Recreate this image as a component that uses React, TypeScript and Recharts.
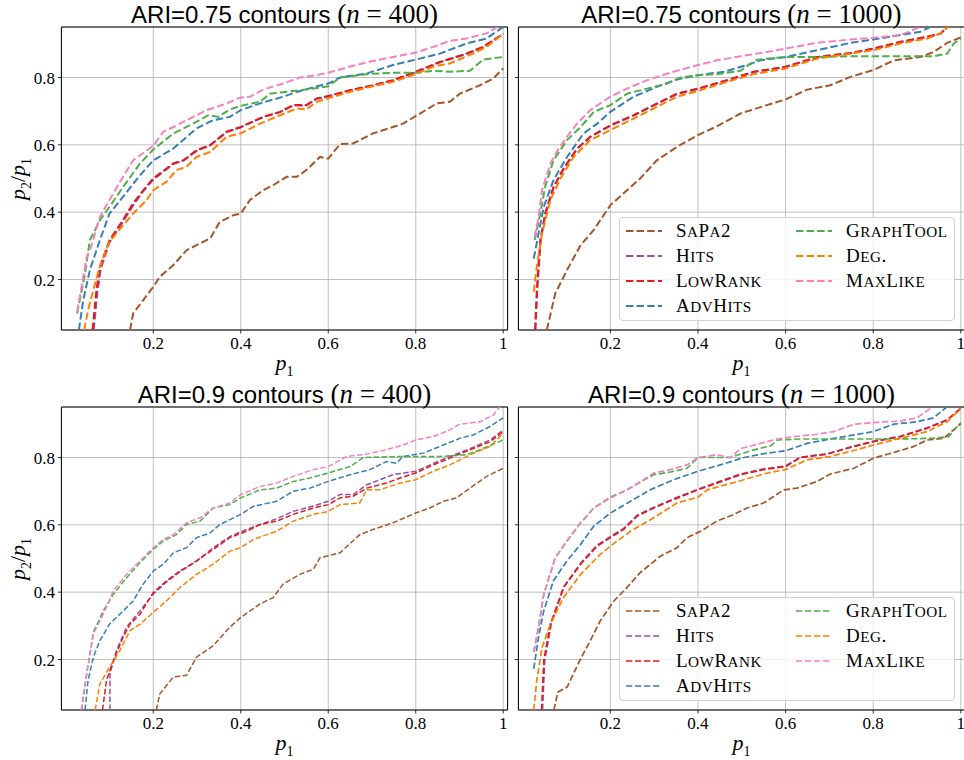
import React from "react";
import { LineChart, Line, XAxis, YAxis, CartesianGrid, ReferenceArea } from "recharts";

type Pt = [number, number];

const SERIES_NAMES = ["SaPa2", "Hits", "LowRank", "AdvHits", "GraphTool", "Deg.", "MaxLike"];
const SERIES_COLORS = ["#a65628", "#984ea3", "#e41a1c", "#377eb8", "#4daf4a", "#ff7f00", "#f781bf"];
const X_TICKS = [0.2, 0.4, 0.6, 0.8, 1];
const Y_TICKS = [0.2, 0.4, 0.6, 0.8];

// ARI = 0.75, n = 400  (p1, p2/p1)
const a75n400SaPa2: Pt[] = [[0.147,0.05],[0.154,0.099],[0.177,0.139],[0.2,0.178],[0.215,0.208],[0.246,0.243],[0.276,0.287],[0.299,0.302],[0.33,0.322],[0.352,0.371],[0.383,0.391],[0.4,0.396],[0.421,0.436],[0.451,0.465],[0.474,0.48],[0.505,0.505],[0.528,0.505],[0.55,0.525],[0.581,0.564],[0.6,0.559],[0.627,0.602],[0.657,0.604],[0.702,0.634],[0.748,0.653],[0.771,0.663],[0.81,0.693],[0.848,0.723],[0.878,0.728],[0.901,0.752],[0.947,0.777],[0.977,0.797],[1.0,0.827]];
const a75n400Hits: Pt[] = [[0.064,0.05],[0.072,0.16],[0.08,0.232],[0.1,0.31],[0.128,0.366],[0.154,0.42],[0.177,0.462],[0.2,0.497],[0.246,0.543],[0.269,0.553],[0.299,0.582],[0.33,0.598],[0.368,0.638],[0.4,0.652],[0.451,0.682],[0.49,0.697],[0.52,0.717],[0.55,0.717],[0.574,0.737],[0.6,0.744],[0.648,0.761],[0.702,0.776],[0.748,0.791],[0.8,0.816],[0.855,0.845],[0.916,0.87],[0.954,0.89],[1.0,0.929]];
const a75n400LowRank: Pt[] = [[0.061,0.05],[0.07,0.168],[0.078,0.238],[0.1,0.317],[0.128,0.371],[0.154,0.426],[0.177,0.465],[0.2,0.5],[0.246,0.545],[0.269,0.554],[0.299,0.584],[0.33,0.599],[0.368,0.639],[0.4,0.653],[0.451,0.683],[0.49,0.698],[0.52,0.718],[0.55,0.718],[0.574,0.738],[0.6,0.745],[0.648,0.762],[0.702,0.777],[0.748,0.792],[0.8,0.817],[0.855,0.846],[0.916,0.871],[0.954,0.891],[1.0,0.93]];
const a75n400AdvHits: Pt[] = [[0.03,0.05],[0.04,0.139],[0.055,0.228],[0.078,0.317],[0.1,0.396],[0.131,0.446],[0.17,0.51],[0.2,0.554],[0.246,0.589],[0.299,0.649],[0.337,0.673],[0.375,0.683],[0.4,0.703],[0.444,0.723],[0.497,0.743],[0.528,0.757],[0.574,0.774],[0.6,0.782],[0.627,0.8],[0.688,0.812],[0.748,0.837],[0.8,0.853],[0.855,0.871],[0.916,0.901],[0.962,0.916],[1.0,0.95]];
const a75n400GraphTool: Pt[] = [[0.026,0.099],[0.044,0.218],[0.055,0.317],[0.078,0.376],[0.1,0.416],[0.131,0.475],[0.17,0.545],[0.2,0.586],[0.246,0.634],[0.291,0.663],[0.326,0.688],[0.349,0.683],[0.375,0.705],[0.398,0.715],[0.444,0.728],[0.467,0.752],[0.52,0.76],[0.566,0.767],[0.6,0.774],[0.627,0.8],[0.688,0.81],[0.748,0.814],[0.8,0.814],[0.84,0.82],[0.878,0.817],[0.924,0.82],[0.954,0.853],[1.0,0.861]];
const a75n400Deg: Pt[] = [[0.042,0.05],[0.051,0.109],[0.067,0.188],[0.078,0.238],[0.1,0.312],[0.128,0.356],[0.154,0.396],[0.185,0.436],[0.2,0.465],[0.23,0.49],[0.253,0.525],[0.276,0.535],[0.299,0.564],[0.33,0.579],[0.368,0.624],[0.4,0.634],[0.444,0.663],[0.49,0.688],[0.528,0.708],[0.55,0.705],[0.574,0.728],[0.6,0.738],[0.648,0.757],[0.702,0.774],[0.748,0.787],[0.8,0.81],[0.84,0.832],[0.878,0.842],[0.931,0.871],[0.962,0.891],[1.0,0.93]];
const a75n400MaxLike: Pt[] = [[0.026,0.104],[0.048,0.267],[0.059,0.302],[0.078,0.386],[0.1,0.436],[0.124,0.49],[0.154,0.554],[0.2,0.597],[0.223,0.639],[0.246,0.653],[0.276,0.673],[0.322,0.703],[0.368,0.723],[0.398,0.74],[0.421,0.743],[0.451,0.764],[0.497,0.782],[0.535,0.8],[0.574,0.807],[0.6,0.814],[0.648,0.832],[0.702,0.849],[0.748,0.861],[0.8,0.874],[0.84,0.891],[0.878,0.909],[0.916,0.916],[0.962,0.931],[1.0,0.96]];

// ARI = 0.75, n = 1000
const a75n1000SaPa2: Pt[] = [[0.055,0.05],[0.074,0.158],[0.101,0.228],[0.132,0.302],[0.162,0.347],[0.2,0.421],[0.238,0.465],[0.268,0.5],[0.306,0.554],[0.352,0.594],[0.4,0.629],[0.443,0.655],[0.497,0.693],[0.55,0.715],[0.6,0.735],[0.649,0.764],[0.702,0.777],[0.748,0.802],[0.8,0.822],[0.847,0.851],[0.908,0.861],[0.938,0.876],[0.969,0.903],[1.0,0.919]];
const a75n1000Hits: Pt[] = [[0.029,0.05],[0.033,0.168],[0.041,0.317],[0.052,0.396],[0.071,0.475],[0.094,0.53],[0.124,0.588],[0.154,0.623],[0.2,0.657],[0.253,0.687],[0.299,0.717],[0.352,0.751],[0.4,0.766],[0.466,0.791],[0.527,0.816],[0.6,0.831],[0.672,0.86],[0.748,0.872],[0.8,0.885],[0.862,0.905],[0.923,0.92],[0.954,0.93],[0.969,0.949],[0.98,0.97]];
const a75n1000LowRank: Pt[] = [[0.028,0.05],[0.032,0.168],[0.04,0.317],[0.051,0.396],[0.07,0.475],[0.093,0.53],[0.124,0.589],[0.154,0.624],[0.2,0.658],[0.253,0.688],[0.299,0.718],[0.352,0.752],[0.4,0.767],[0.466,0.792],[0.527,0.817],[0.6,0.832],[0.672,0.861],[0.748,0.873],[0.8,0.886],[0.862,0.906],[0.923,0.921],[0.954,0.931],[0.969,0.95],[0.98,0.97]];
const a75n1000AdvHits: Pt[] = [[0.025,0.262],[0.036,0.337],[0.048,0.416],[0.07,0.495],[0.101,0.564],[0.139,0.634],[0.17,0.663],[0.2,0.698],[0.253,0.743],[0.306,0.772],[0.352,0.794],[0.4,0.807],[0.459,0.817],[0.512,0.837],[0.543,0.851],[0.6,0.861],[0.672,0.881],[0.748,0.903],[0.8,0.913],[0.862,0.926],[0.908,0.936],[0.938,0.955]];
const a75n1000GraphTool: Pt[] = [[0.027,0.317],[0.04,0.396],[0.051,0.475],[0.07,0.554],[0.101,0.614],[0.132,0.653],[0.162,0.698],[0.2,0.718],[0.238,0.752],[0.284,0.767],[0.329,0.782],[0.36,0.8],[0.4,0.807],[0.443,0.81],[0.497,0.82],[0.512,0.834],[0.535,0.853],[0.6,0.861],[0.672,0.861],[0.748,0.863],[0.8,0.863],[0.862,0.863],[0.938,0.863],[0.969,0.871],[0.984,0.901],[1.0,0.916]];
const a75n1000Deg: Pt[] = [[0.025,0.163],[0.032,0.238],[0.044,0.337],[0.063,0.436],[0.086,0.5],[0.116,0.564],[0.154,0.614],[0.2,0.644],[0.253,0.678],[0.299,0.708],[0.352,0.743],[0.4,0.76],[0.466,0.787],[0.527,0.81],[0.6,0.827],[0.672,0.856],[0.748,0.871],[0.8,0.881],[0.862,0.901],[0.923,0.916],[0.954,0.931],[0.972,0.952]];
const a75n1000MaxLike: Pt[] = [[0.027,0.327],[0.036,0.386],[0.044,0.465],[0.063,0.545],[0.082,0.589],[0.101,0.624],[0.124,0.663],[0.154,0.703],[0.2,0.743],[0.238,0.767],[0.284,0.792],[0.344,0.817],[0.4,0.837],[0.443,0.851],[0.497,0.863],[0.558,0.876],[0.6,0.886],[0.672,0.903],[0.748,0.913],[0.8,0.918],[0.862,0.926],[0.9,0.946],[0.923,0.96]];

// ARI = 0.9, n = 400
const a90n400SaPa2: Pt[] = [[0.207,0.05],[0.215,0.098],[0.246,0.148],[0.276,0.153],[0.299,0.207],[0.337,0.241],[0.375,0.296],[0.4,0.325],[0.444,0.365],[0.474,0.384],[0.497,0.424],[0.535,0.453],[0.566,0.468],[0.581,0.502],[0.627,0.517],[0.672,0.571],[0.702,0.586],[0.748,0.606],[0.8,0.635],[0.832,0.65],[0.863,0.67],[0.893,0.68],[0.924,0.709],[0.962,0.744],[1.0,0.768]];
const a90n400Hits: Pt[] = [[0.101,0.05],[0.101,0.158],[0.116,0.227],[0.139,0.296],[0.17,0.345],[0.2,0.394],[0.23,0.43],[0.261,0.46],[0.299,0.492],[0.337,0.532],[0.375,0.565],[0.413,0.586],[0.451,0.604],[0.482,0.618],[0.52,0.64],[0.566,0.656],[0.6,0.67],[0.627,0.69],[0.657,0.69],[0.688,0.719],[0.748,0.749],[0.8,0.759],[0.84,0.782],[0.878,0.803],[0.924,0.826],[0.97,0.852],[1.0,0.882]];
const a90n400LowRank: Pt[] = [[0.084,0.05],[0.093,0.138],[0.109,0.197],[0.131,0.266],[0.147,0.305],[0.17,0.335],[0.2,0.399],[0.23,0.433],[0.261,0.463],[0.299,0.493],[0.337,0.527],[0.375,0.562],[0.413,0.581],[0.444,0.601],[0.482,0.611],[0.52,0.631],[0.566,0.65],[0.6,0.66],[0.627,0.68],[0.657,0.685],[0.688,0.709],[0.733,0.724],[0.764,0.739],[0.8,0.754],[0.84,0.778],[0.878,0.798],[0.924,0.823],[0.97,0.847],[1.0,0.877]];
const a90n400AdvHits: Pt[] = [[0.044,0.05],[0.051,0.138],[0.063,0.207],[0.078,0.256],[0.1,0.305],[0.124,0.335],[0.154,0.374],[0.177,0.424],[0.2,0.463],[0.223,0.483],[0.246,0.517],[0.276,0.532],[0.299,0.562],[0.33,0.576],[0.352,0.601],[0.4,0.631],[0.429,0.655],[0.482,0.67],[0.52,0.7],[0.558,0.709],[0.6,0.729],[0.65,0.749],[0.695,0.764],[0.733,0.788],[0.756,0.783],[0.771,0.803],[0.817,0.813],[0.863,0.837],[0.901,0.857],[0.931,0.867],[0.97,0.892],[1.0,0.918]];
const a90n400GraphTool: Pt[] = [[0.036,0.05],[0.049,0.167],[0.063,0.281],[0.086,0.345],[0.109,0.394],[0.139,0.443],[0.17,0.488],[0.2,0.527],[0.223,0.552],[0.253,0.571],[0.276,0.601],[0.307,0.611],[0.337,0.65],[0.375,0.66],[0.4,0.68],[0.444,0.704],[0.482,0.709],[0.52,0.729],[0.558,0.739],[0.6,0.754],[0.65,0.773],[0.68,0.8],[0.764,0.803],[0.8,0.803],[0.855,0.803],[0.916,0.808],[0.947,0.823],[1.0,0.852]];
const a90n400Deg: Pt[] = [[0.067,0.05],[0.078,0.128],[0.1,0.177],[0.124,0.227],[0.147,0.286],[0.17,0.305],[0.2,0.34],[0.23,0.374],[0.261,0.414],[0.299,0.453],[0.337,0.483],[0.375,0.522],[0.4,0.532],[0.429,0.557],[0.482,0.581],[0.52,0.611],[0.566,0.631],[0.6,0.64],[0.627,0.66],[0.672,0.665],[0.688,0.704],[0.718,0.704],[0.764,0.724],[0.8,0.734],[0.84,0.759],[0.878,0.778],[0.924,0.808],[0.97,0.833],[1.0,0.872]];
const a90n400MaxLike: Pt[] = [[0.035,0.05],[0.049,0.167],[0.063,0.276],[0.086,0.335],[0.109,0.404],[0.139,0.453],[0.17,0.493],[0.2,0.532],[0.223,0.557],[0.246,0.571],[0.276,0.606],[0.307,0.621],[0.337,0.65],[0.375,0.665],[0.4,0.69],[0.444,0.714],[0.482,0.724],[0.52,0.744],[0.566,0.764],[0.6,0.773],[0.642,0.803],[0.688,0.81],[0.733,0.823],[0.771,0.837],[0.8,0.852],[0.84,0.862],[0.878,0.882],[0.901,0.899],[0.947,0.906],[0.977,0.926],[0.996,0.956]];

// ARI = 0.9, n = 1000
const a90n1000SaPa2: Pt[] = [[0.071,0.05],[0.08,0.103],[0.101,0.118],[0.132,0.202],[0.154,0.256],[0.177,0.315],[0.208,0.374],[0.238,0.414],[0.268,0.458],[0.314,0.507],[0.352,0.532],[0.375,0.562],[0.406,0.581],[0.443,0.611],[0.482,0.631],[0.512,0.65],[0.55,0.665],[0.596,0.704],[0.626,0.709],[0.672,0.729],[0.702,0.751],[0.756,0.768],[0.8,0.798],[0.855,0.818],[0.893,0.833],[0.923,0.852],[0.961,0.857],[1.0,0.901]];
const a90n1000Hits: Pt[] = [[0.045,0.05],[0.05,0.197],[0.065,0.305],[0.094,0.416],[0.132,0.486],[0.17,0.54],[0.2,0.565],[0.23,0.589],[0.261,0.628],[0.299,0.652],[0.344,0.677],[0.4,0.706],[0.443,0.726],[0.497,0.751],[0.55,0.766],[0.6,0.775],[0.634,0.801],[0.695,0.811],[0.748,0.831],[0.8,0.848],[0.862,0.863],[0.923,0.888],[0.969,0.912],[1.0,0.947]];
const a90n1000LowRank: Pt[] = [[0.043,0.05],[0.048,0.197],[0.063,0.305],[0.093,0.414],[0.132,0.483],[0.17,0.537],[0.2,0.562],[0.23,0.586],[0.261,0.626],[0.299,0.65],[0.344,0.675],[0.4,0.704],[0.443,0.724],[0.497,0.749],[0.55,0.764],[0.6,0.773],[0.634,0.8],[0.695,0.81],[0.748,0.83],[0.8,0.847],[0.862,0.862],[0.923,0.887],[0.969,0.911],[1.0,0.946]];
const a90n1000AdvHits: Pt[] = [[0.025,0.172],[0.036,0.266],[0.048,0.345],[0.07,0.434],[0.101,0.493],[0.132,0.542],[0.162,0.596],[0.2,0.635],[0.246,0.67],[0.291,0.704],[0.344,0.734],[0.4,0.759],[0.451,0.778],[0.505,0.8],[0.558,0.813],[0.6,0.82],[0.649,0.842],[0.702,0.855],[0.756,0.867],[0.8,0.877],[0.847,0.899],[0.9,0.906],[0.938,0.918],[0.969,0.951]];
const a90n1000GraphTool: Pt[] = [[0.025,0.222],[0.036,0.296],[0.048,0.394],[0.074,0.502],[0.101,0.552],[0.132,0.606],[0.162,0.65],[0.2,0.682],[0.238,0.704],[0.268,0.727],[0.299,0.749],[0.337,0.757],[0.375,0.768],[0.4,0.8],[0.474,0.8],[0.52,0.82],[0.566,0.835],[0.581,0.852],[0.634,0.855],[0.71,0.855],[0.786,0.855],[0.862,0.855],[0.938,0.857],[0.972,0.862],[1.0,0.904]];
const a90n1000Deg: Pt[] = [[0.025,0.05],[0.032,0.138],[0.044,0.236],[0.063,0.305],[0.093,0.384],[0.132,0.453],[0.177,0.512],[0.2,0.537],[0.246,0.581],[0.299,0.621],[0.352,0.665],[0.4,0.682],[0.421,0.704],[0.497,0.731],[0.558,0.754],[0.6,0.764],[0.649,0.793],[0.702,0.803],[0.748,0.818],[0.8,0.837],[0.862,0.857],[0.923,0.877],[0.969,0.906],[1.0,0.946]];
const a90n1000MaxLike: Pt[] = [[0.025,0.222],[0.036,0.296],[0.048,0.394],[0.074,0.502],[0.101,0.552],[0.132,0.606],[0.162,0.65],[0.2,0.68],[0.238,0.704],[0.268,0.727],[0.299,0.754],[0.337,0.764],[0.375,0.778],[0.4,0.8],[0.443,0.808],[0.474,0.8],[0.497,0.826],[0.543,0.842],[0.581,0.855],[0.619,0.862],[0.672,0.869],[0.71,0.877],[0.756,0.899],[0.824,0.906],[0.862,0.908],[0.9,0.918],[0.931,0.946],[0.95,0.97]];

const SERIF = "'Liberation Serif', 'DejaVu Serif', serif";
const SANS = "'Liberation Sans', Arial, sans-serif";

interface PanelProps {
  left: number;
  top: number;
  ari: string;
  n: number;
  series: Pt[][];
  leftSide: boolean;
  legend: boolean;
  lw: number;
  dash: string;
}

// LaTeX-like small caps: lowercase letters drawn as smaller capitals
function SmallCaps({ text, size }: { text: string; size: number }) {
  return (
    <>
      {text.split("").map((ch, i) =>
        ch >= "a" && ch <= "z" ? (
          <span key={i} style={{ fontSize: size * 0.8 }}>
            {ch.toUpperCase()}
          </span>
        ) : (
          <span key={i}>{ch}</span>
        )
      )}
    </>
  );
}

function Legend({ lw, dash }: { lw: number; dash: string }) {
  const cols = [[0, 1, 2, 3], [4, 5, 6]];
  return (
    <div
      style={{
        position: "absolute",
        left: 162.4,
        top: 216.7,
        width: 336,
        height: 104,
        boxSizing: "border-box",
        border: "1px solid #d0d0d0",
        borderRadius: 4,
        background: "rgba(255,255,255,0.8)",
      }}
    >
      {cols.map((idxs, c) =>
        idxs.map((i, r) => (
          <div
            key={i}
            style={{
              position: "absolute",
              left: c === 0 ? 6 : 176,
              top: 0.5 + r * 25,
              height: 25,
              display: "flex",
              alignItems: "center",
              whiteSpace: "nowrap",
            }}
          >
            <svg width={36} height={6} style={{ display: "block" }}>
              <line x1={0} y1={3} x2={36} y2={3} stroke={SERIES_COLORS[i]} strokeWidth={lw} strokeDasharray={dash} />
            </svg>
            <span
              style={{
                marginLeft: 14,
                fontFamily: SERIF,
                fontSize: 19,
                letterSpacing: 0.5,
                color: "#000",
                lineHeight: "25px",
              }}
            >
              <SmallCaps text={SERIES_NAMES[i]} size={19} />
            </span>
          </div>
        ))
      )}
    </div>
  );
}

function Panel({ left, top, ari, n, series, leftSide, legend, lw, dash }: PanelProps) {
  const rightMargin = leftSide ? 12.4 : 11.8;
  const plotCx = 61.4 + (520 - 61.4 - rightMargin) / 2;
  return (
    <div style={{ position: "absolute", left, top, width: 520, height: 380 }}>
      <LineChart width={520} height={380} margin={{ top: 27, right: rightMargin, left: 0, bottom: 0 }}>
        <CartesianGrid stroke="#b0b0b0" strokeWidth={0.8} />
        <XAxis
          type="number"
          dataKey="x"
          domain={[-0.01, 1.01]}
          ticks={X_TICKS}
          interval={0}
          allowDataOverflow
          height={50}
          axisLine={false}
          tickSize={3.5}
          tickMargin={3.5}
          tickLine={{ stroke: "#000", strokeWidth: 0.8 }}
          tick={{ fontFamily: SERIF, fontSize: 17, fill: "#000" }}
          tickFormatter={(v: number) => (v === 1 ? "1" : v.toFixed(1))}
        />
        <YAxis
          type="number"
          dataKey="y"
          domain={[0.05, 0.95]}
          ticks={Y_TICKS}
          interval={0}
          allowDataOverflow
          width={61.4}
          axisLine={false}
          tickSize={3.5}
          tickMargin={3}
          tickLine={{ stroke: "#000", strokeWidth: 0.8 }}
          tick={{ fontFamily: SERIF, fontSize: 17, fill: "#000" }}
          tickFormatter={(v: number) => (leftSide ? v.toFixed(1) : "")}
        />
        {series.map((pts, i) => (
          <Line
            key={SERIES_NAMES[i]}
            data={pts.map(([x, y]) => ({ x, y }))}
            dataKey="y"
            type="linear"
            stroke={SERIES_COLORS[i]}
            strokeWidth={lw}
            strokeDasharray={dash}
            dot={false}
            activeDot={false}
            isAnimationActive={false}
          />
        ))}
        <ReferenceArea
          x1={-0.01}
          x2={1.01}
          y1={0.05}
          y2={0.95}
          fill="none"
          fillOpacity={0}
          stroke="#000"
          strokeWidth={1}
          ifOverflow="visible"
        />
      </LineChart>

      <div
        style={{
          position: "absolute",
          left: plotCx,
          top: 14,
          transform: "translate(-50%, -50%)",
          whiteSpace: "nowrap",
          fontFamily: SANS,
          fontSize: 24,
          color: "#000",
        }}
      >
        ARI={ari} contours{" "}
        <span style={{ fontFamily: SERIF, fontSize: 27 }}>
          (<i>n</i> = {n})
        </span>
      </div>

      <div
        style={{
          position: "absolute",
          left: plotCx,
          top: 365,
          transform: "translate(-50%, -50%)",
          whiteSpace: "nowrap",
          fontFamily: SERIF,
          fontSize: 22,
          color: "#000",
        }}
      >
        <i>p</i>
        <sub style={{ fontSize: 14 }}>1</sub>
      </div>

      {leftSide && (
        <div
          style={{
            position: "absolute",
            left: 20,
            top: 178.5,
            transform: "translate(-50%, -50%) rotate(-90deg)",
            whiteSpace: "nowrap",
            fontFamily: SERIF,
            fontSize: 22,
            color: "#000",
          }}
        >
          <i>p</i>
          <sub style={{ fontSize: 14 }}>2</sub>/<i>p</i>
          <sub style={{ fontSize: 14 }}>1</sub>
        </div>
      )}

      {legend && <Legend lw={lw} dash={dash} />}
    </div>
  );
}

export default function App() {
  return (
    <div
      style={{
        position: "absolute",
        left: 0,
        top: 0,
        width: 964,
        height: 760,
        overflow: "hidden",
        background: "#fff",
      }}
    >
      <Panel
        left={0}
        top={0}
        ari="0.75"
        n={400}
        series={[a75n400SaPa2, a75n400Hits, a75n400LowRank, a75n400AdvHits, a75n400GraphTool, a75n400Deg, a75n400MaxLike]}
        leftSide
        legend={false}
        lw={2}
        dash="7.4 3.2"
      />
      <Panel
        left={456.6}
        top={0}
        ari="0.75"
        n={1000}
        series={[a75n1000SaPa2, a75n1000Hits, a75n1000LowRank, a75n1000AdvHits, a75n1000GraphTool, a75n1000Deg, a75n1000MaxLike]}
        leftSide={false}
        legend
        lw={2}
        dash="7.4 3.2"
      />
      <Panel
        left={0}
        top={380.3}
        ari="0.9"
        n={400}
        series={[a90n400SaPa2, a90n400Hits, a90n400LowRank, a90n400AdvHits, a90n400GraphTool, a90n400Deg, a90n400MaxLike]}
        leftSide
        legend={false}
        lw={1.5}
        dash="5.5 2.4"
      />
      <Panel
        left={456.6}
        top={380.3}
        ari="0.9"
        n={1000}
        series={[a90n1000SaPa2, a90n1000Hits, a90n1000LowRank, a90n1000AdvHits, a90n1000GraphTool, a90n1000Deg, a90n1000MaxLike]}
        leftSide={false}
        legend
        lw={1.7}
        dash="6.3 2.7"
      />
    </div>
  );
}
